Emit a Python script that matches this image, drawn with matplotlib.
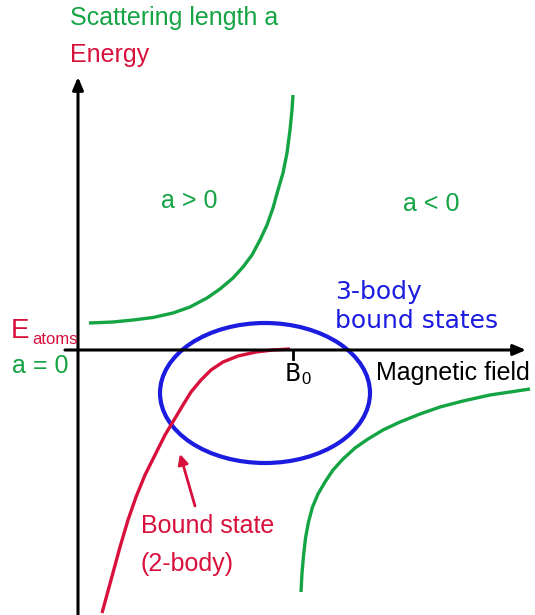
import matplotlib.pyplot as plt
from matplotlib.patches import Ellipse

plt.rcParams["font.family"] = ["Liberation Sans", "DejaVu Sans"]

GREEN = "#14a444"
RED = "#d8113c"
BLUE = "#1c1ce0"

# schematic curves (x = field, y = value, image units)
a_pos_x = [89, 113, 133, 153, 173, 190, 207, 220, 233, 243,
           252, 260, 267, 273, 278, 283, 287, 290, 292, 293]
a_pos_y = [323, 322, 320, 317.5, 313, 307, 298, 289, 278, 267,
           255, 240, 225, 208, 190, 173, 153, 130, 110, 95]

a_neg_x = [301, 302, 303.5, 305.5, 308.5, 312.5, 318, 325, 333, 343,
           355, 368, 383, 400, 420, 440, 463, 490, 510, 530]
a_neg_y = [592, 573, 556, 538, 522, 507, 494, 482, 470, 459,
           448, 439, 430, 422, 414, 407, 401, 395, 392, 389]

bound_x = [102, 111, 120, 128, 136, 145, 156, 165, 174, 183,
           191, 201, 211, 223, 238, 256, 273, 290]
bound_y = [613, 580, 547, 520, 497, 475, 453, 435, 420, 405,
           392, 380, 370, 362, 356, 352, 350, 349]

B0 = 293
E_atoms = 350

# three-body region: centre, width, height
trimer_center = (265, 393)
trimer_size = (210, 140)

fig = plt.figure(figsize=(5.35, 6.15), dpi=100)
ax = fig.add_axes([0, 0, 1, 1])
ax.set_xlim(0, 535)
ax.set_ylim(615, 0)
ax.axis("off")

# axes with arrows
head = "-|>,head_length=0.75,head_width=0.32"
ax.annotate("", xy=(78, 77), xytext=(78, 615),
            arrowprops=dict(arrowstyle=head, color="black", lw=2.2,
                            shrinkA=0, shrinkB=0))
ax.annotate("", xy=(526, E_atoms), xytext=(65, E_atoms),
            arrowprops=dict(arrowstyle=head, color="black", lw=2.2,
                            shrinkA=0, shrinkB=0))
ax.plot([B0, B0], [E_atoms, 359], color="black", lw=2)

ax.plot(a_pos_x, a_pos_y, color=GREEN, lw=2.4, solid_capstyle="butt")
ax.plot(a_neg_x, a_neg_y, color=GREEN, lw=2.4, solid_capstyle="butt")
ax.plot(bound_x, bound_y, color=RED, lw=2.4, solid_capstyle="butt")

ax.add_patch(Ellipse(trimer_center, trimer_size[0], trimer_size[1],
                     fill=False, edgecolor=BLUE, lw=3))

ax.annotate("", xy=(180, 454), xytext=(195, 506),
            arrowprops=dict(arrowstyle="-|>,head_length=0.6,head_width=0.3",
                            color=RED, lw=2, shrinkA=0, shrinkB=0))

fs = 18
ax.text(70, 18, "Scattering length a", color=GREEN, fontsize=fs, va="center")
ax.text(70, 55, "Energy", color=RED, fontsize=fs, va="center")
ax.text(189, 201, "a > 0", color=GREEN, fontsize=fs, va="center", ha="center")
ax.text(431, 204, "a < 0", color=GREEN, fontsize=fs, va="center", ha="center")
ax.text(335, 292, "3-body", color=BLUE, fontsize=fs, va="center",
        family="DejaVu Sans")
ax.text(335, 321, "bound states", color=BLUE, fontsize=fs, va="center",
        family="DejaVu Sans")
ax.text(11, 331, "E", color=RED, fontsize=20, va="center")
ax.text(32, 339, "atoms", color=RED, fontsize=12, va="center")
ax.text(12, 366, "a = 0", color=GREEN, fontsize=fs, va="center")
ax.text(285, 374, "B", color="black", fontsize=17, va="center",
        family="DejaVu Sans")
ax.text(301, 379, "0", color="black", fontsize=12, va="center")
ax.text(376, 373, "Magnetic field", color="black", fontsize=fs, va="center")
ax.text(141, 526, "Bound state", color=RED, fontsize=fs, va="center")
ax.text(141, 564, "(2-body)", color=RED, fontsize=fs, va="center")

fig.savefig("out.png", dpi=100)
